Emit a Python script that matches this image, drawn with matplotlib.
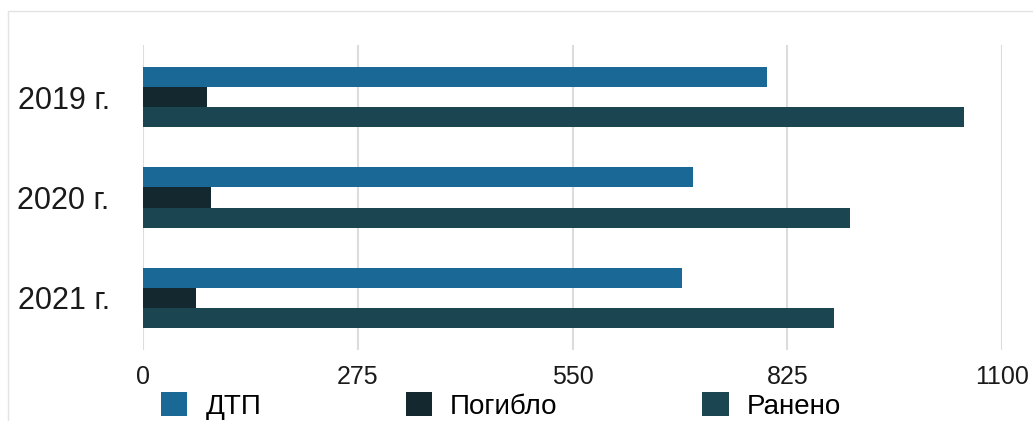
import matplotlib.pyplot as plt
from matplotlib.patches import Patch, Rectangle
import numpy as np

plt.rcParams['font.family'] = ['Liberation Sans', 'DejaVu Sans']

years = ['2019 г.', '2020 г.', '2021 г.']
series_names = ['ДТП', 'Погибло', 'Ранено']
dtp = [799, 704, 690]
killed = [82, 87, 68]
injured = [1051, 905, 885]
colors = ['#196895', '#13292f', '#1b4651']
x_ticks = [0, 275, 550, 825, 1100]

fig = plt.figure(figsize=(10.33, 4.21), dpi=100)
ax = fig.add_axes([143 / 1033, 1 - 350 / 421, (1002 - 143) / 1033, 305 / 421])

pos = np.arange(len(years))
h = 0.2
for i, (vals, c) in enumerate(zip([dtp, killed, injured], colors)):
    ax.barh(pos + (i - 1) * h, vals, height=h, color=c, zorder=3)

ax.set_xlim(0, 1100)
ax.set_ylim(2.52, -0.52)
ax.set_xticks(x_ticks)
ax.set_xticklabels([str(t) for t in x_ticks])
ax.set_yticks(pos)
ax.set_yticklabels(years)
ax.tick_params(axis='x', length=0, pad=11, labelsize=18, colors='#1a1a1a')
ax.tick_params(axis='y', length=0, pad=24, labelsize=22, colors='#1a1a1a')
ax.grid(axis='x', color='#dcdcdc', linewidth=1.5, zorder=0)
for s in ax.spines.values():
    s.set_visible(False)

# light frame around the whole chart
fig.patches.append(Rectangle((8 / 1033, -0.05), 1.0, 1 - 11 / 421 + 0.05,
                             transform=fig.transFigure, fill=False,
                             edgecolor='#e3e3e3', linewidth=1))

handles = [Patch(facecolor=c, edgecolor='none') for c in colors]
fig.legend(handles, series_names, loc='center left',
           bbox_to_anchor=(161 / 1033, 1 - 406 / 421), ncol=3, frameon=False,
           fontsize=20, handlelength=0.95, handleheight=0.95, handletextpad=0.65,
           columnspacing=5.2, borderpad=0, borderaxespad=0)

fig.savefig('out.png', dpi=100)
